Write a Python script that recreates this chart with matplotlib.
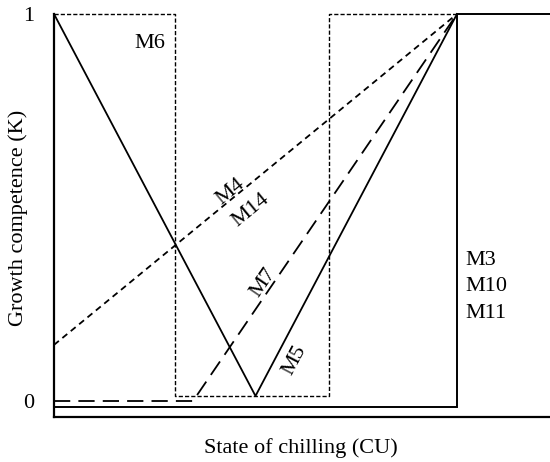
import numpy as np
import matplotlib
matplotlib.use("Agg")
import matplotlib.pyplot as plt

plt.rcParams['font.family'] = ['Liberation Serif', 'DejaVu Serif']

# Data (x in relative chilling units, y = growth competence K)
m3_x = [0.0, 1.0, 1.0, 1.23]
m3_y = [-0.015, -0.015, 1.0, 1.0]
m6_x = [0.0, 0.30, 0.30, 0.682, 0.682, 1.0]
m6_y = [1.0, 1.0, 0.013, 0.013, 1.0, 1.0]
m5_x = [0.0, 0.50, 1.0]
m5_y = [1.0, 0.013, 1.0]
m4_x = [0.0, 1.0]
m4_y = [0.145, 1.0]
m7_x = [0.0, 0.345, 1.0]
m7_y = [0.0, 0.0, 1.0]
ytick_vals = [0, 1]
ytick_labels = ["0", "1"]

fig = plt.figure(figsize=(5.5, 4.62), dpi=100)
ax = fig.add_axes([54/550, (462-417)/462, 1 - 54/550, (417-14)/462])
ax.set_xlim(0, (550-54)/403)
ax.set_ylim(-(417-401)/387, 1.0)

kw = dict(color='black', clip_on=False)
ax.plot(m3_x, m3_y, lw=1.4, solid_joinstyle='miter', **kw)
ax.plot(m6_x, m6_y, lw=1.0, linestyle=(0, (3, 1.5)), **kw)
ax.plot(m5_x, m5_y, lw=1.3, **kw)
ax.plot(m4_x, m4_y, lw=1.3, linestyle=(0, (3.5, 2.5)), **kw)
ax.plot(m7_x, m7_y, lw=1.3, linestyle=(0, (9, 4.5)), **kw)

for s in ['top', 'right']:
    ax.spines[s].set_visible(False)
for s in ['left', 'bottom']:
    ax.spines[s].set_linewidth(1.6)

fs = 16
ax.set_xticks([])
ax.set_yticks(ytick_vals)
ax.set_yticklabels(ytick_labels, fontsize=fs)
ax.tick_params(axis='y', length=0, pad=14)

fig.text(301/550, 1 - 448/462, "State of chilling (CU)", fontsize=fs,
         ha='center', va='center')
fig.text(18/550, 1 - 218/462, "Growth competence (K)", fontsize=fs,
         ha='center', va='center', rotation=90)

fig.canvas.draw()

def angle(x0, y0, x1, y1):
    p0 = ax.transData.transform((x0, y0))
    p1 = ax.transData.transform((x1, y1))
    return np.degrees(np.arctan2(p1[1]-p0[1], p1[0]-p0[0]))

a4 = angle(m4_x[0], m4_y[0], m4_x[1], m4_y[1])
a7 = angle(m7_x[1], m7_y[1], m7_x[2], m7_y[2])
a5 = angle(m5_x[1], m5_y[1], m5_x[2], m5_y[2])

ax.text(0.238, 0.925, "M6", fontsize=fs, ha='center', va='center')
ax.text(0.437, 0.540, "M4", fontsize=fs, ha='center', va='center', rotation=a4)
ax.text(0.487, 0.494, "M14", fontsize=fs, ha='center', va='center', rotation=a4)
ax.text(0.519, 0.305, "M7", fontsize=fs, ha='center', va='center', rotation=a7)
ax.text(0.598, 0.106, "M5", fontsize=fs, ha='center', va='center', rotation=a5)
ax.text(1.022, 0.295, "M3\nM10\nM11", fontsize=fs, ha='left', va='center',
        linespacing=1.55)

fig.savefig("out.png", dpi=100)
